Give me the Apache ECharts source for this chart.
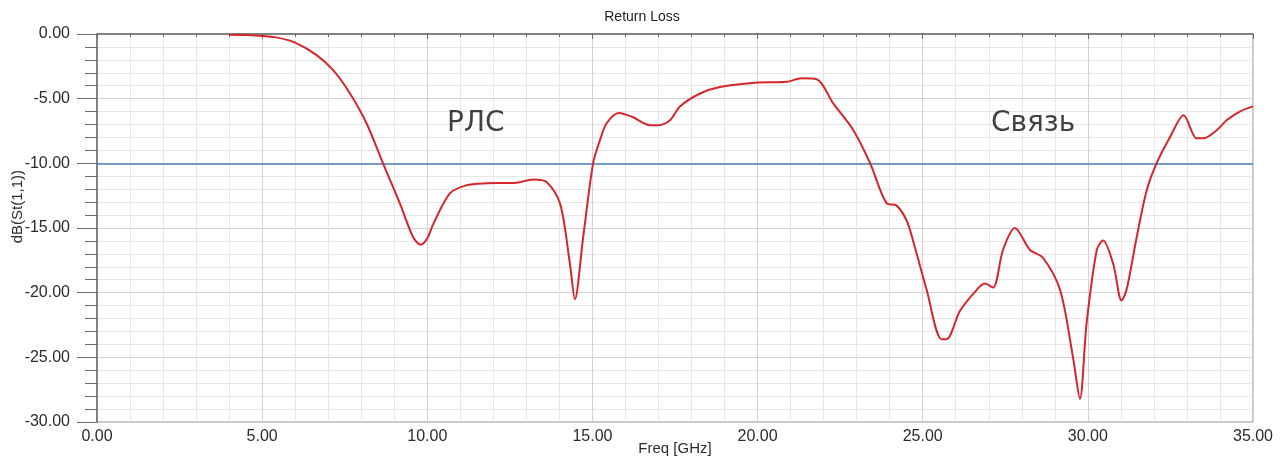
<!DOCTYPE html>
<html>
<head>
<meta charset="utf-8">
<script src="https://cdn.jsdelivr.net/npm/echarts@6/dist/echarts.min.js"></script>
<style>html,body{margin:0;padding:0;background:#fff}#c{width:1284px;height:459px}</style>
</head>
<body>
<div id="c"></div>
<script>
// ---- data ----
const freq = [4.0, 4.5, 5.0, 5.5, 6.0, 6.65, 7.15, 7.66, 8.16, 8.66, 9.17, 9.57, 9.8, 10.0, 10.18, 10.69, 11.19, 11.69, 12.7, 13.2, 13.61, 14.02, 14.32, 14.47, 14.72, 15.02, 15.23, 15.43, 15.8, 16.2, 16.74, 16.99, 17.35, 17.65, 18.26, 18.86, 19.92, 20.88, 21.33, 21.79, 22.29, 22.9, 23.41, 23.91, 24.2, 24.51, 24.71, 25.12, 25.57, 25.72, 26.13, 26.63, 26.88, 27.13, 27.43, 27.79, 28.25, 28.64, 29.16, 29.55, 29.76, 29.96, 30.27, 30.46, 30.77, 31.02, 31.17, 31.48, 31.78, 32.08, 32.49, 32.9, 33.29, 33.49, 33.9, 34.2, 34.6, 35.0];
const s11 = [-0.05, -0.08, -0.15, -0.3, -0.67, -1.63, -2.8, -4.6, -6.9, -10.0, -13.1, -15.7, -16.3, -15.8, -14.7, -12.3, -11.7, -11.55, -11.5, -11.25, -11.45, -13.1, -17.8, -20.5, -15.7, -10.0, -8.2, -6.9, -6.1, -6.4, -7.05, -7.05, -6.67, -5.6, -4.6, -4.1, -3.77, -3.7, -3.43, -3.5, -5.36, -7.44, -10.0, -13.1, -13.25, -14.4, -16.0, -19.8, -23.6, -23.6, -21.4, -19.8, -19.3, -19.6, -16.7, -15.0, -16.7, -17.3, -19.8, -25.0, -28.2, -22.4, -16.7, -15.97, -17.8, -20.6, -19.8, -15.7, -12.1, -10.0, -7.96, -6.28, -8.07, -8.07, -7.44, -6.67, -6.0, -5.6];
const threshold = -10;
const annoText = ['РЛС', 'Связь'];
const annoFreq = [11.47, 28.34];
const annoDb = [-6.9, -6.9];
const xTicks = [0, 5, 10, 15, 20, 25, 30, 35];
const yTicks = [0, -5, -10, -15, -20, -25, -30];

const chart = echarts.init(document.getElementById('c'), null, {renderer: 'canvas'});
const font = 'Liberation Sans, Arial, sans-serif';
chart.setOption({
  animation: false,
  backgroundColor: '#fff',
  title: {
    text: 'Return Loss', left: 'center', top: 10, padding: 0,
    textStyle: {fontSize: 14, fontWeight: 'normal', color: '#222', fontFamily: font}
  },
  grid: {left: 97, right: 31, top: 34, bottom: 37, show: true, borderColor: '#8a8a8a', borderWidth: 1,
         outerBoundsMode: 'none', containLabel: false},
  xAxis: {
    type: 'value', min: xTicks[0], max: xTicks[xTicks.length - 1], interval: 5,
    name: 'Freq [GHz]', nameLocation: 'middle', nameGap: 19, nameMoveOverlap: false,
    nameTextStyle: {fontSize: 15, color: '#2b2b2b', fontFamily: font},
    axisLine: {lineStyle: {color: '#6a6a6a', width: 1.5}},
    axisTick: {show: true, length: 5, lineStyle: {color: '#6a6a6a'}},
    minorTick: {show: true, splitNumber: 5, length: 3, lineStyle: {color: '#6a6a6a'}},
    splitLine: {show: true, lineStyle: {color: '#d2d2d2'}},
    minorSplitLine: {show: true, lineStyle: {color: '#e6e6e6'}},
    axisLabel: {formatter: v => v.toFixed(2), fontSize: 16, color: '#2b2b2b', fontFamily: font, margin: 7}
  },
  yAxis: {
    type: 'value', min: yTicks[yTicks.length - 1], max: yTicks[0], interval: 5,
    axisLine: {show: true, lineStyle: {color: '#6a6a6a', width: 1.5}},
    axisTick: {show: true, length: 20, lineStyle: {color: '#6a6a6a'}},
    minorTick: {show: true, splitNumber: 5, length: 12, lineStyle: {color: '#6a6a6a'}},
    splitLine: {show: true, lineStyle: {color: '#d2d2d2'}},
    minorSplitLine: {show: true, lineStyle: {color: '#e6e6e6'}},
    axisLabel: {formatter: v => v.toFixed(2), fontSize: 16, color: '#2b2b2b', fontFamily: font, margin: 27}
  },
  graphic: [{
    type: 'text', left: 10, top: 170, rotation: Math.PI / 2,
    style: {text: 'dB(St(1,1))', fontSize: 15, fill: '#2b2b2b', fontFamily: font}
  }],
  series: [
    {
      type: 'line', data: freq.map((f, i) => [f, s11[i]]), showSymbol: false, smooth: 0.3,
      lineStyle: {color: '#d5262c', width: 2}, z: 5,
      markLine: {
        silent: true, symbol: 'none', label: {show: false},
        lineStyle: {color: '#4f81bd', width: 1.5, type: 'solid'},
        data: [{yAxis: threshold}]
      }
    },
    {
      type: 'scatter', symbolSize: 0,
      data: annoText.map((t, i) => ({name: t, value: [annoFreq[i], annoDb[i]]})),
      label: {show: true, position: 'inside', formatter: p => p.name, fontSize: 28, color: '#111', fontFamily: 'DejaVu Sans'}
    }
  ]
});
</script>
</body>
</html>
